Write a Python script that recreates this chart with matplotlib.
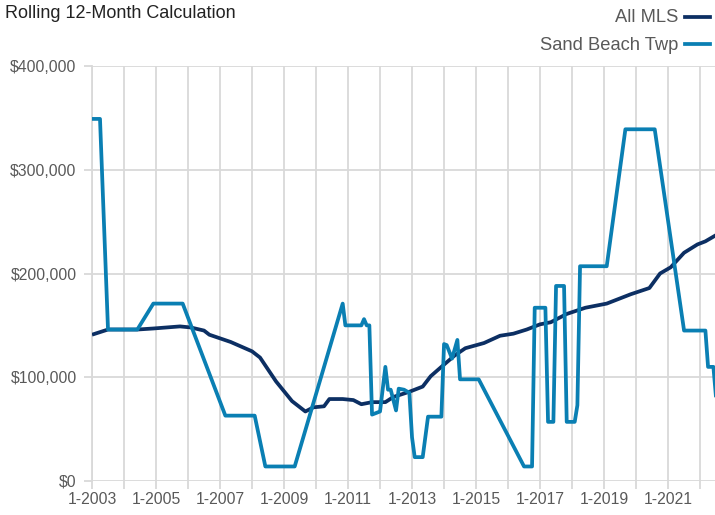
import matplotlib
matplotlib.use("Agg")
import matplotlib.pyplot as plt
from matplotlib.lines import Line2D
from matplotlib.ticker import FuncFormatter, MultipleLocator

# months since 1-2003
all_mls_m = [0, 6, 17, 23, 33, 37, 42, 44, 52, 60, 63, 69, 75, 80, 83, 87, 89, 94, 98,
             101, 105, 110, 113, 119, 124, 127, 131, 136, 140, 147, 153, 158, 163, 168,
             172, 178, 185, 193, 202, 209, 213, 217, 222, 227, 230, 234]
all_mls_v = [141, 146, 146, 147, 149, 148, 145, 141, 134, 125, 119, 96, 77, 67, 71, 72,
             79, 79, 78, 74, 76, 76, 81, 86, 91, 101, 110, 121, 128, 133, 140, 142, 146,
             151, 153, 161, 167, 171, 180, 186, 200, 206, 220, 228, 231, 237]

sand_m = [0, 3, 6, 17, 23, 34, 50, 61, 65, 76, 94, 95, 101, 102, 103, 104, 105, 108,
          110, 111, 112, 114, 115, 117, 119, 120, 121, 124, 126, 131, 132, 133, 135,
          137, 138, 145, 162, 165, 166, 170, 171, 173, 174, 177, 178, 181, 182, 183,
          193, 200, 211, 222, 230, 231, 233, 234]
sand_v = [349, 349, 146, 146, 171, 171, 63, 63, 14, 14, 171, 150, 150, 156, 150, 150,
          64, 67, 110, 88, 88, 68, 89, 88, 85, 42, 23, 23, 62, 62, 132, 131, 118, 136,
          98, 98, 14, 14, 167, 167, 57, 57, 188, 188, 57, 57, 73, 207, 207, 339, 339,
          145, 145, 110, 110, 80]

tick_years = list(range(2003, 2023, 2))
x_labels = [f"1-{y}" for y in tick_years]

navy = "#0c2f63"
blue = "#0a7fb3"
grid = "#d9d9d9"
txt = "#595959"
fam = ["Liberation Sans", "DejaVu Sans"]

fig = plt.figure(figsize=(7.15, 5.15), dpi=100)
ax = fig.add_axes([92 / 715, 34 / 515, 1 - 92 / 715, (481 - 66) / 515])

ax.plot(all_mls_m, [v * 1000 for v in all_mls_v], color=navy, lw=2.7, zorder=3,
        solid_capstyle="butt", solid_joinstyle="round")
ax.plot(sand_m, [v * 1000 for v in sand_v], color=blue, lw=2.7, zorder=4,
        solid_capstyle="butt", solid_joinstyle="round")

ax.set_xlim(0, 233.6)
ax.set_ylim(0, 400000)
ax.set_xticks([(y - 2003) * 12 for y in tick_years])
ax.set_xticklabels(x_labels)
ax.xaxis.set_minor_locator(MultipleLocator(12))
ax.yaxis.set_major_locator(MultipleLocator(100000))
ax.yaxis.set_major_formatter(FuncFormatter(lambda v, p: f"${int(v):,}"))

ax.grid(True, which="both", axis="x", color=grid, lw=1.3, zorder=0)
ax.grid(True, which="major", axis="y", color=grid, lw=1.3, zorder=0)
for s in ["top", "right", "bottom"]:
    ax.spines[s].set_visible(False)
ax.spines["left"].set_color(grid)
ax.spines["left"].set_linewidth(1.3)
ax.tick_params(axis="both", which="both", color=grid, width=1.3, length=6,
               labelcolor=txt, labelsize=11.3, pad=5)
ax.tick_params(axis="x", which="both", pad=2)
for lab in ax.get_xticklabels() + ax.get_yticklabels():
    lab.set_family(fam)
ax.set_axisbelow(True)

fig.text(5 / 715, 1 - 13 / 515, "Rolling 12-Month Calculation", ha="left", va="center",
         fontsize=13, color="#222222", family=fam)
fig.text(678 / 715, 1 - 18 / 515, "All MLS", ha="right", va="center",
         fontsize=13.2, color=txt, family=fam)
fig.text(678 / 715, 1 - 45 / 515, "Sand Beach Twp", ha="right", va="center",
         fontsize=13.2, color=txt, family=fam)
fig.add_artist(Line2D([685 / 715, 710 / 715], [1 - 17 / 515, 1 - 17 / 515],
                      color=navy, lw=2.7, transform=fig.transFigure))
fig.add_artist(Line2D([685 / 715, 710 / 715], [1 - 44 / 515, 1 - 44 / 515],
                      color=blue, lw=2.7, transform=fig.transFigure))

fig.savefig("out.png", dpi=100)
